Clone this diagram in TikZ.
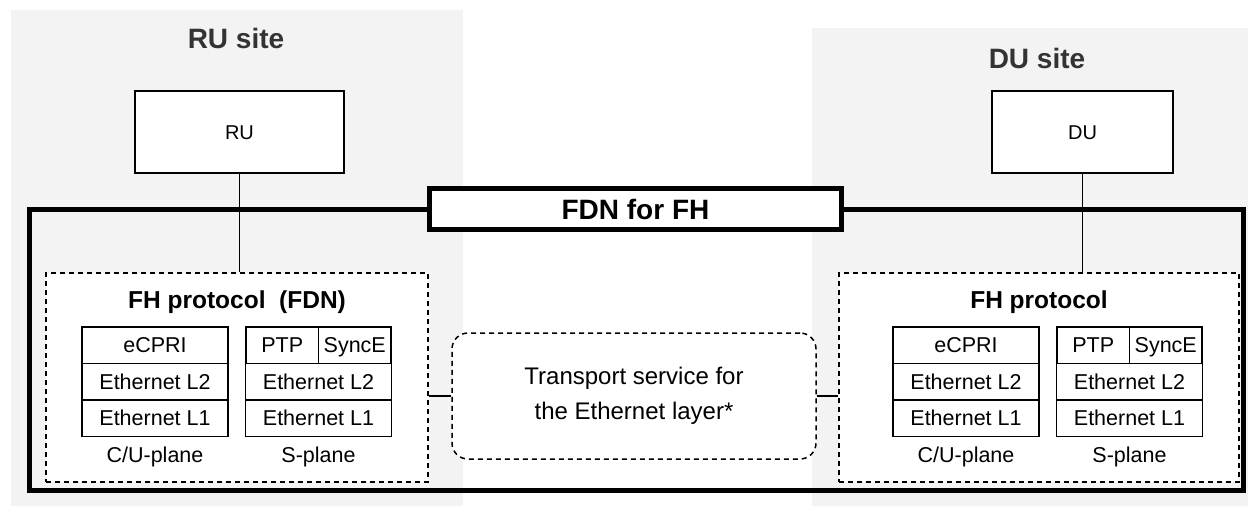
\documentclass[tikz,border=0pt]{standalone}
\usepackage{fontspec}
\setmainfont{Liberation Sans}

\definecolor{sitebg}{HTML}{F3F3F3}
\definecolor{sitefg}{HTML}{333333}

\newcommand{\rusite}{(11,10) rectangle (463,506)}
\newcommand{\dusite}{(812,28) rectangle (1248,506)}
\newcommand{\fdnframe}{(29,209) rectangle (1243,490)}

\tikzset{
  layer/.style={draw, line width=1.5pt, fill=white, minimum width=146pt, minimum height=36.5pt,
    inner sep=0pt, text height=15.4pt, text depth=0pt, font=\fontsize{21.5}{24}\selectfont},
  halflayer/.style={layer, minimum width=72.5pt},
  planelabel/.style={inner sep=0pt, text height=15.4pt, text depth=0pt, font=\fontsize{21.5}{24}\selectfont},
  dashbox/.style={draw, dash pattern=on 5pt off 4pt, line width=1.5pt, fill=white, inner sep=0pt},
  unitbox/.style={draw, line width=1.8pt, fill=white, minimum height=82pt, inner sep=0pt,
    text height=14.3pt, text depth=0pt, font=\fontsize{20}{24}\selectfont},
  sitetitle/.style={font=\fontsize{28}{32}\selectfont\bfseries, text=sitefg},
  prototitle/.style={font=\fontsize{24.5}{28}\selectfont\bfseries},
}

\begin{document}
\begin{tikzpicture}[x=1pt,y=-1pt]
	\useasboundingbox (0,0) rectangle (1248,506);

	\fill[sitebg] \rusite;
	\fill[sitebg] \dusite;
	\node[sitetitle] (rutitle) at (236,38) {RU site};
	\node[sitetitle] (dutitle) at (1037,58) {DU site};

	\draw[line width=5pt] \fdnframe;% the FDN for FH frame

	\node[unitbox, minimum width=209pt] (ru) at (239.5,132) {RU};
	\node[unitbox, minimum width=181pt] (du) at (1082.5,132) {DU};

	\node[dashbox, minimum width=382pt, minimum height=209pt] (lproto) at (237,377.5) {};
	\node[dashbox, minimum width=400pt, minimum height=209pt] (rproto) at (1039,377.5) {};
	\draw[line width=1.5pt] (ru.south) -- (ru.south |- lproto.north);
	\draw[line width=1.5pt] (du.south) -- (du.south |- rproto.north);

	\node[draw, line width=5pt, fill=white, minimum width=412pt, minimum height=41pt,
		font=\fontsize{28}{32}\selectfont\bfseries] (fdn) at (635.5,209) {FDN for FH};

	\node[prototitle] (ltitle) at (237,302) {FH protocol\ \ (FDN)};
	\node[prototitle] (rtitle) at (1039,302) {FH protocol};

	\foreach \s/\cx/\sx in {l/155/318.5, r/966/1129.5}{
		\node[layer] (\s-ecpri) at (\cx,345) {eCPRI};
		\node[layer] (\s-cul2) at (\cx,381.5) {Ethernet L2};
		\node[layer] (\s-cul1) at (\cx,418) {Ethernet L1};
		\node[planelabel] (\s-cu) at (\cx,454.5) {C/U-plane};
		\node[halflayer] (\s-ptp) at (\sx-36.25,345) {PTP};
		\node[halflayer] (\s-synce) at (\sx+36.25,345) {SyncE};
		\node[layer] (\s-sl2) at (\sx,381.5) {Ethernet L2};
		\node[layer] (\s-sl1) at (\sx,418) {Ethernet L1};
		\node[planelabel] (\s-s) at (\sx,454.5) {S-plane};
	}

	\node[dashbox, rounded corners=16pt, minimum width=364pt, minimum height=126pt, align=center,
		font=\fontsize{24}{35}\selectfont] (transport) at (634,396)
		{Transport service for\\the Ethernet layer*};
	\draw[line width=1.5pt] (transport.west) -- (transport.west -| lproto.east);
	\draw[line width=1.5pt] (transport.east) -- (transport.east -| rproto.west);
\end{tikzpicture}
\end{document}
